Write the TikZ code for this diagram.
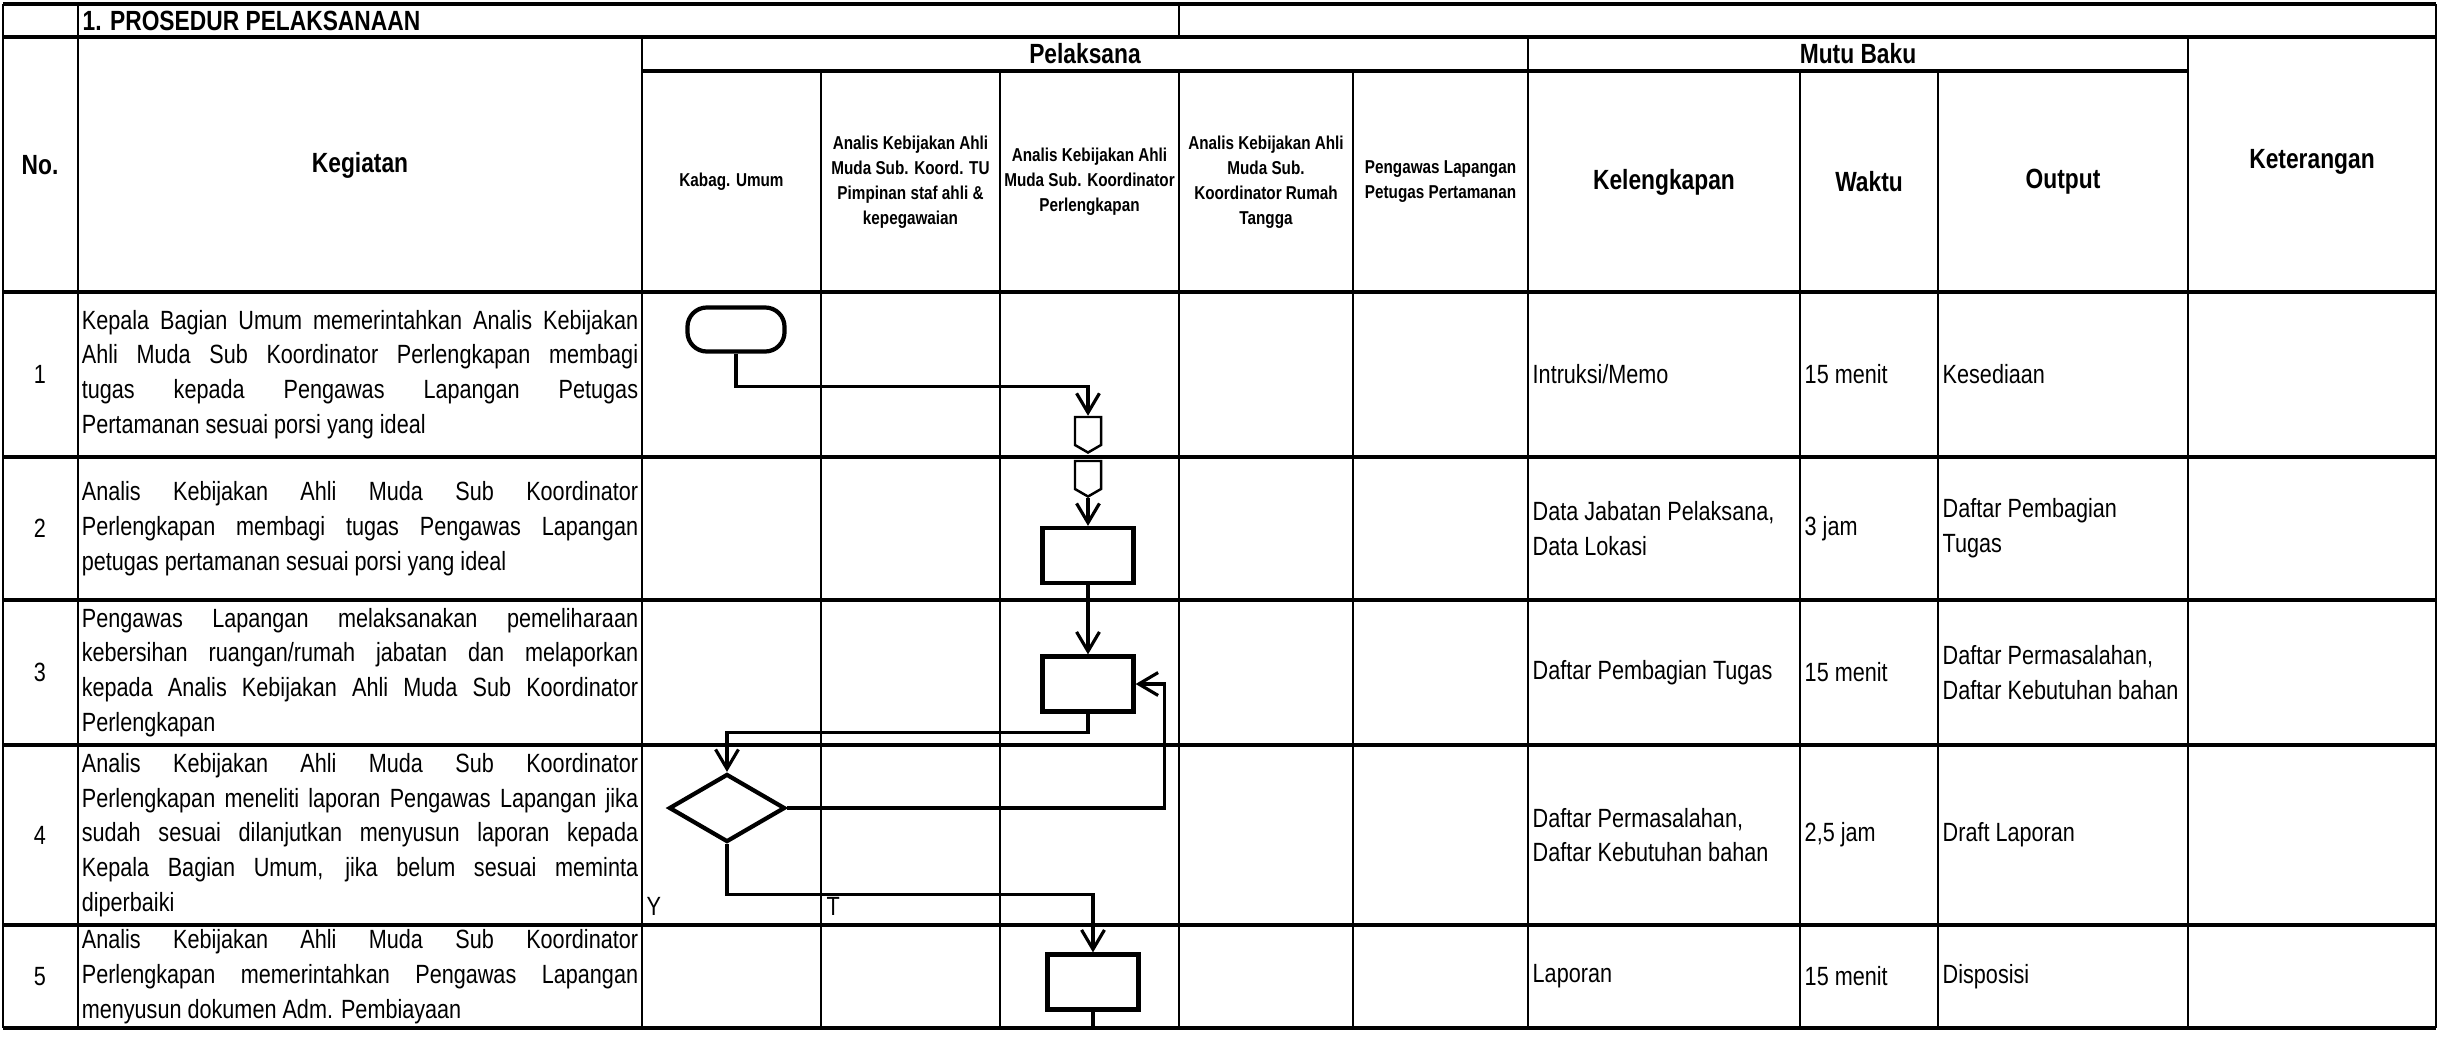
\documentclass[tikz,border=0pt]{standalone}
\usepackage{fontspec}
\setmainfont{Liberation Sans}[FakeStretch=0.82]
\usetikzlibrary{shapes.geometric,shapes.symbols,arrows.meta}

\newcommand{\bodySize}{\fontsize{7.5pt}{9.9pt}\selectfont\tolerance=10000 \hbadness=10000 \hyphenpenalty=10000 }
\newcommand{\headSize}{\fontsize{7.9pt}{9.9pt}\selectfont\bfseries}
\newcommand{\laneSize}{\fontsize{5.3pt}{7.1pt}\selectfont\bfseries}

\begin{document}
\begin{tikzpicture}
[x=0.01cm, y=-0.01cm,
  rowLine/.style={line width=1.1pt},
  colLine/.style={line width=0.7pt},
  headDecorate/.style={font=\headSize, inner sep=0pt},
  laneDecorate/.style={font=\laneSize, align=center, inner sep=0pt},
  bodyDecorate/.style={font=\bodySize, inner sep=0pt},
  stepDecorate/.style={font=\bodySize, inner sep=0pt, text width=5.56cm, align=justify},
  cellDecorate/.style={font=\bodySize, inner sep=0pt, anchor=west, align=left},
  termDecorate/.style={draw, line width=1.2pt, rounded corners=5.5pt, minimum width=0.97cm, minimum height=0.44cm, inner sep=0pt},
  procDecorate/.style={draw, line width=1.2pt, minimum width=0.91cm, minimum height=0.55cm, inner sep=0pt},
  decideDecorate/.style={draw, diamond, line width=1.2pt, minimum width=1.16cm, minimum height=0.68cm, inner sep=0pt},
  pageDecorate/.style={draw, signal, signal to=south, signal pointer angle=120, line width=0.7pt, minimum width=0.26cm, minimum height=0.28cm, inner sep=0pt},
  flowDecorate/.style={line width=0.9pt, -{Straight Barb[length=5.5pt,width=6.5pt]}},
  tailDecorate/.style={line width=0.9pt}]
\useasboundingbox (0,0) rectangle (2439,1036);
%% table grid
\foreach \y in {4,37,292,457,600,745,925,1028}
  \draw[rowLine] (3,\y) -- (2436,\y);
\draw[rowLine] (642,71) -- (2188,71);
\foreach \x in {3,78,2436}
  \draw[colLine] (\x,4) -- (\x,1028);
\foreach \x in {642,1528,2188}
  \draw[colLine] (\x,37) -- (\x,1028);
\foreach \x in {821,1000,1179,1353,1800,1938}
  \draw[colLine] (\x,71) -- (\x,1028);
\draw[colLine] (1179,4) -- (1179,37);
%% headings
\node (title) at (82,21) [headDecorate, anchor=west] {1. PROSEDUR PELAKSANAAN};
\node (hNo) at (40,165) [headDecorate] {No.};
\node (hKegiatan) at (360,165) [headDecorate] {Kegiatan};
\node (hPelaksana) at (1085,54) [headDecorate] {Pelaksana};
\node (hMutu) at (1858,54) [headDecorate] {Mutu Baku};
\node (hKeterangan) at (2312,162) [headDecorate] {Keterangan};
\node (hKelengkapan) at (1664,182) [headDecorate] {Kelengkapan};
\node (hWaktu) at (1869,182) [headDecorate] {Waktu};
\node (hOutput) at (2063,182) [headDecorate] {Output};
\node (lane1) at (731.5,182) [laneDecorate] {Kabag. Umum};
\node (lane2) at (910.5,182) [laneDecorate] {Analis Kebijakan Ahli\\Muda Sub. Koord. TU\\Pimpinan staf ahli \&\\kepegawaian};
\node (lane3) at (1089.5,182) [laneDecorate] {Analis Kebijakan Ahli\\Muda Sub. Koordinator\\Perlengkapan};
\node (lane4) at (1266,182) [laneDecorate] {Analis Kebijakan Ahli\\Muda Sub.\\Koordinator Rumah\\Tangga};
\node (lane5) at (1440.5,182) [laneDecorate] {Pengawas Lapangan\\Petugas Pertamanan};
%% rows
\foreach \n/\yc in {1/374.5,2/528.5,3/672.5,4/835,5/976.5}
{
  \node (no\n) at (40,\yc) [bodyDecorate] {\n};
}
\node (step1) at (360,374.5) [stepDecorate] {Kepala Bagian Umum memerintahkan Analis Kebijakan\linebreak Ahli Muda Sub Koordinator Perlengkapan membagi\linebreak tugas kepada Pengawas Lapangan Petugas\linebreak Pertamanan sesuai porsi yang ideal};
\node (step2) at (360,528.5) [stepDecorate] {Analis Kebijakan Ahli Muda Sub Koordinator\linebreak Perlengkapan membagi tugas Pengawas Lapangan\linebreak petugas pertamanan sesuai porsi yang ideal};
\node (step3) at (360,672.5) [stepDecorate] {Pengawas Lapangan melaksanakan pemeliharaan\linebreak kebersihan ruangan/rumah jabatan dan melaporkan\linebreak kepada Analis Kebijakan Ahli Muda Sub Koordinator\linebreak Perlengkapan};
\node (step4) at (360,835) [stepDecorate] {Analis Kebijakan Ahli Muda Sub Koordinator\linebreak Perlengkapan meneliti laporan Pengawas Lapangan jika\linebreak sudah sesuai dilanjutkan menyusun laporan kepada\linebreak Kepala Bagian Umum, jika belum sesuai meminta\linebreak diperbaiki};
\node (step5) at (360,976.5) [stepDecorate] {Analis Kebijakan Ahli Muda Sub Koordinator\linebreak Perlengkapan memerintahkan Pengawas Lapangan\linebreak menyusun dokumen Adm. Pembiayaan};
%% mutu baku
\node (kel1) at (1532,374.5) [cellDecorate] {Intruksi/Memo};
\node (wak1) at (1804,374.5) [cellDecorate] {15 menit};
\node (out1) at (1942,374.5) [cellDecorate] {Kesediaan};
\node (kel2) at (1532,528.5) [cellDecorate] {Data Jabatan Pelaksana,\\Data Lokasi};
\node (wak2) at (1804,528.5) [cellDecorate] {3 jam};
\node (out2) at (1942,528.5) [cellDecorate] {Daftar Pembagian\\Tugas};
\node (kel3) at (1532,672.5) [cellDecorate] {Daftar Pembagian Tugas};
\node (wak3) at (1804,672.5) [cellDecorate] {15 menit};
\node (out3) at (1942,672.5) [cellDecorate] {Daftar Permasalahan,\\Daftar Kebutuhan bahan};
\node (kel4) at (1532,835) [cellDecorate] {Daftar Permasalahan,\\Daftar Kebutuhan bahan};
\node (wak4) at (1804,835) [cellDecorate] {2,5 jam};
\node (out4) at (1942,835) [cellDecorate] {Draft Laporan};
\node (kel5) at (1532,976.5) [cellDecorate] {Laporan};
\node (wak5) at (1804,976.5) [cellDecorate] {15 menit};
\node (out5) at (1942,976.5) [cellDecorate] {Disposisi};
%% flow shapes
\node (start) at (736,329.5) [termDecorate] {};
\node (page1) at (1088,431) [pageDecorate] {};
\node (page2) at (1088,475) [pageDecorate] {};
\node (bagi) at (1088,555.5) [procDecorate] {};
\node (rawat) at (1088,684) [procDecorate] {};
\node (teliti) at (727,808) [decideDecorate] {};
\node (susun) at (1093,982) [procDecorate] {};
\coordinate (tail) at (1093,1028);
\node (yes) at (646,906) [bodyDecorate, anchor=west] {Y};
\node (no) at (826,906) [bodyDecorate, anchor=west] {T};
%% flow lines
\draw[flowDecorate] (start.south) -- ++(0,33) -| (page1.north);
\draw[flowDecorate] (page2.south) -- (bagi.north);
\draw[flowDecorate] (bagi.south) -- (rawat.north);
\draw[flowDecorate] (rawat.south) -- ++(0,19) -| (teliti.north);
\draw[flowDecorate] (teliti.east) -- ++(377,0) |- (rawat.east);
\draw[flowDecorate] (teliti.south) -- ++(0,50) -| (susun.north);
\draw[tailDecorate] (susun.south) -- (tail);
\end{tikzpicture}
\end{document}
